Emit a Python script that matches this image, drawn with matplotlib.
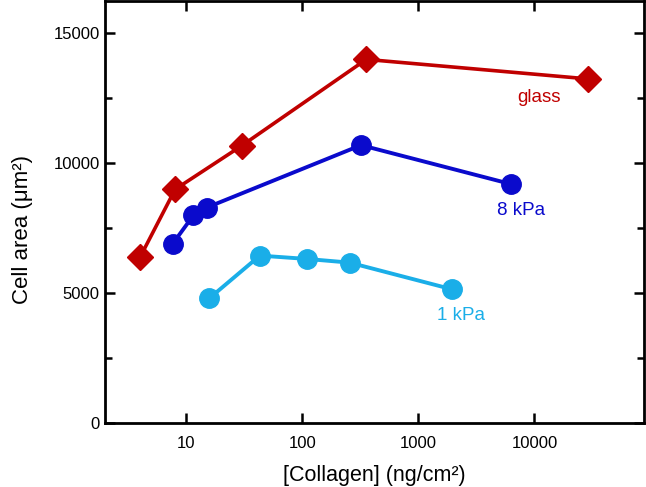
import matplotlib
matplotlib.use("Agg")
import matplotlib.pyplot as plt
from matplotlib.ticker import FixedLocator, NullLocator, FuncFormatter, MultipleLocator

plt.rcParams['font.family'] = ['Liberation Sans', 'DejaVu Sans']

glass_x = [4.0, 8.0, 30.0, 355.0, 29000.0]
glass_y = [6400, 9000, 10680, 14000, 13250]

kpa8_x = [7.6, 11.5, 15.0, 320.0, 6300.0]
kpa8_y = [6900, 8000, 8300, 10700, 9200]

kpa1_x = [15.7, 43.0, 110.0, 255.0, 1960.0]
kpa1_y = [4800, 6450, 6320, 6180, 5150]

series_labels = ["glass", "8 kPa", "1 kPa"]
x_ticks = [10, 100, 1000, 10000]
y_ticks = [0, 5000, 10000, 15000]

c_red = '#C00000'
c_blue = '#0A0ACC'
c_light = '#1AAEE8'

fig = plt.figure(figsize=(6.46, 4.87), dpi=100)
ax = fig.add_axes([0.163, 0.131, 0.834, 0.866])

ax.plot(glass_x, glass_y, '-', color=c_red, lw=2.6, marker='D', ms=13, zorder=3)
ax.plot(kpa8_x, kpa8_y, '-', color=c_blue, lw=2.8, marker='o', ms=14, zorder=3)
ax.plot(kpa1_x, kpa1_y, '-', color=c_light, lw=2.8, marker='o', ms=14, zorder=3)

ax.text(11000, 12550, series_labels[0], color=c_red, fontsize=13.5, ha='center', va='center')
ax.text(7600, 8200, series_labels[1], color=c_blue, fontsize=13.5, ha='center', va='center')
ax.text(2330, 4130, series_labels[2], color=c_light, fontsize=13.5, ha='center', va='center')

ax.set_xscale('log')
ax.set_xlim(2, 88000)
ax.set_ylim(0, 16230)
ax.xaxis.set_major_locator(FixedLocator(x_ticks))
ax.xaxis.set_minor_locator(NullLocator())
ax.xaxis.set_major_formatter(FuncFormatter(lambda v, p: f"{int(round(v))}"))
ax.yaxis.set_major_locator(FixedLocator(y_ticks))
ax.yaxis.set_minor_locator(MultipleLocator(2500))
ax.yaxis.set_major_formatter(FuncFormatter(lambda v, p: f"{int(round(v))}"))

ax.tick_params(which='both', direction='in', top=True, right=True, width=1.8, labelsize=12)
ax.tick_params(axis='y', pad=4)
ax.tick_params(axis='x', pad=9)
ax.tick_params(which='major', length=7)
ax.tick_params(which='minor', length=5)
for s in ax.spines.values():
    s.set_linewidth(2)

ax.set_xlabel('[Collagen] (ng/cm²)', fontsize=15.5, labelpad=10)
ax.set_ylabel('Cell area (μm²)', fontsize=16)
ax.yaxis.set_label_coords(-0.135, 0.46)

fig.savefig('out.png', dpi=100)
